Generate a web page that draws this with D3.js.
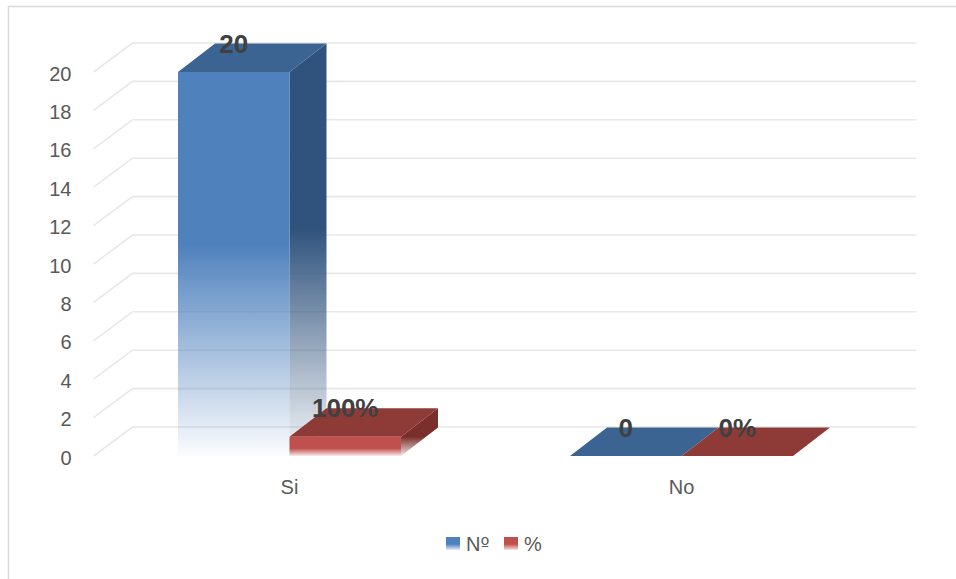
<!DOCTYPE html>
<html>
<head>
<meta charset="utf-8">
<script src="https://cdn.jsdelivr.net/npm/d3@7"></script>
<style>
  html, body { margin: 0; padding: 0; background: #fff; }
  svg { display: block; }
</style>
</head>
<body>
<script>
// Survey answers: count (Nº) and share (%) per answer
const categories = ["Si", "No"];
const seriesNames = ["Nº", "%"];
const countValues = [20, 0];
const shareValues = [1, 0];          // 1 = 100 %
const shareLabels = ["100%", "0%"];
const countLabels = ["20", "0"];
const yTicks = [0, 2, 4, 6, 8, 10, 12, 14, 16, 18, 20];

const W = 956, H = 579;
const FONT = "Liberation Sans, Arial, sans-serif";
const svg = d3.select("body").append("svg").attr("width", W).attr("height", H);
const defs = svg.append("defs");

// vertical fade used on the front and side faces
function fade(id, color, stops) {
  const g = defs.append("linearGradient").attr("id", id)
    .attr("x1", 0).attr("y1", 0).attr("x2", 0).attr("y2", 1);
  stops.forEach(([o, a]) => g.append("stop").attr("offset", o)
    .attr("stop-color", color).attr("stop-opacity", a));
}
fade("blueFront", "#4F81BD", [[0, 1], [0.45, 1], [1, 0.02]]);
fade("blueSide", "#30537D", [[0, 1], [0.45, 1], [1, 0.05]]);
fade("redFront", "#C0504D", [[0, 1], [0.6, 1], [1, 0.1]]);
fade("redSide", "#7B2F2D", [[0, 1], [0.6, 1], [1, 0.1]]);
fade("blueKey", "#4F81BD", [[0, 1], [0.55, 1], [1, 0.15]]);
fade("redKey", "#C0504D", [[0, 1], [0.55, 1], [1, 0.15]]);

const series = [
  { name: seriesNames[0], values: countValues, labels: countLabels,
    front: "url(#blueFront)", side: "url(#blueSide)", top: "#3C6492", key: "url(#blueKey)" },
  { name: seriesNames[1], values: shareValues, labels: shareLabels,
    front: "url(#redFront)", side: "url(#redSide)", top: "#8E3B38", key: "url(#redKey)" }
];

// chart frame
svg.append("rect").attr("x", 8.5).attr("y", 6.5).attr("width", 1200).attr("height", 1200)
  .attr("fill", "none").attr("stroke", "#D9D9D9").attr("stroke-width", 1.5);

// scales (front plane)
const plotLeft = 93.5, plotRight = 877.5;
const y = d3.scaleLinear().domain([0, 20]).range([456, 72]);
const x0 = d3.scaleBand().domain(categories).range([plotLeft, plotRight]);
const x1 = d3.scaleBand().domain(seriesNames).range([0, x0.bandwidth()]).paddingOuter(0.758);

// depth offsets
const wall = { dx: 39, dy: -29 };
const bar = { dx: 37, dy: -28.5 };

// gridlines: diagonal side wall then back wall
const grid = svg.append("g");
yTicks.forEach(t => {
  const yf = y(t), yb = y(t) + wall.dy;
  grid.append("path")
    .attr("d", `M${plotLeft},${yf}L${plotLeft + wall.dx},${yb}L${plotRight + wall.dx},${yb}`)
    .attr("fill", "none").attr("stroke", "#E8E8E8").attr("stroke-width", 1.6);
});

// value axis labels
const yAxis = svg.append("g").attr("transform", `translate(${plotLeft},0)`)
  .call(d3.axisLeft(y).tickValues(yTicks).tickSize(0).tickPadding(22));
yAxis.select(".domain").remove();
yAxis.selectAll("text").attr("font-family", FONT)
  .attr("font-size", 20).attr("fill", "#595959").attr("dy", "0.4em");

// category axis labels
const xAxis = svg.append("g").attr("transform", `translate(0,${y(0)})`)
  .call(d3.axisBottom(x0).tickSize(0).tickPadding(24));
xAxis.select(".domain").remove();
xAxis.selectAll("text").attr("font-family", FONT)
  .attr("font-size", 20).attr("fill", "#595959");

// 3-D columns
const bars = svg.append("g");
const labels = [];
categories.forEach((c, ci) => {
  series.forEach(s => {
    const v = s.values[ci];
    const xl = x0(c) + x1(s.name), xr = xl + x1.bandwidth();
    const yt = y(v), yb = y(0);
    const g = bars.append("g");
    if (yb - yt > 0.5) {
      // right side face
      g.append("path")
        .attr("d", `M${xr},${yt}L${xr + bar.dx},${yt + bar.dy}L${xr + bar.dx},${yb + bar.dy}L${xr},${yb}Z`)
        .attr("fill", s.side);
    }
    // top face
    g.append("path")
      .attr("d", `M${xl},${yt}L${xl + bar.dx},${yt + bar.dy}L${xr + bar.dx},${yt + bar.dy}L${xr},${yt}Z`)
      .attr("fill", s.top);
    if (yb - yt > 0.5) {
      // front face
      g.append("rect").attr("x", xl).attr("y", yt).attr("width", xr - xl).attr("height", yb - yt)
        .attr("fill", s.front);
    }
    labels.push({ x: (xl + xr) / 2, y: yt + bar.dy + 9, text: s.labels[ci] });
  });
});

// data labels
svg.append("g").selectAll("text").data(labels).join("text")
  .attr("x", d => d.x).attr("y", d => d.y)
  .attr("text-anchor", "middle")
  .attr("font-family", FONT)
  .attr("font-weight", "bold").attr("font-size", 26).attr("fill", "#404040")
  .text(d => d.text);

// legend
const legend = svg.append("g");
const keyX = [446, 504];
series.forEach((s, i) => {
  legend.append("rect").attr("x", keyX[i]).attr("y", 537).attr("width", 14).attr("height", 13)
    .attr("fill", s.key);
  const t = legend.append("text").attr("x", keyX[i] + 20).attr("y", 551)
    .attr("font-family", FONT).attr("font-size", 20).attr("fill", "#595959");
  // ordinal sign drawn with its underline
  s.name.split(/(º)/).filter(p => p).forEach(p => {
    const sp = t.append("tspan").text(p);
    if (p === "º") sp.attr("font-family", "DejaVu Sans, sans-serif").attr("font-size", 19);
  });
});
</script>
</body>
</html>
